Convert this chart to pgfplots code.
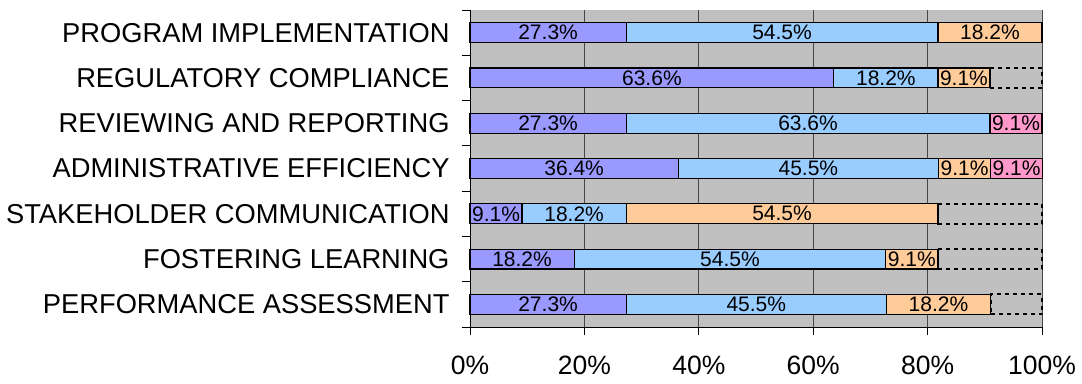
\documentclass[border=0pt]{standalone}
\usepackage{pgfplots}
\pgfplotsset{compat=1.18}
\usepackage{fontspec}
\setmainfont{Liberation Sans}
\definecolor{cA}{HTML}{9999FF}
\definecolor{cB}{HTML}{99CCFF}
\definecolor{cC}{HTML}{FFCC99}
\definecolor{cD}{HTML}{FF99CC}
\definecolor{bg}{HTML}{C0C0C0}
\begin{document}
\begin{tikzpicture}[x=1bp,y=1bp]
\path[use as bounding box] (0,0) rectangle (1082,383);
\pgfplotsset{common/.style={scale only axis, width=572bp, height=317bp,
  at={(470bp,56bp)}, anchor=south west,
  xmin=0, xmax=100, ymin=-0.5, ymax=6.5, clip=false}}
\begin{axis}[common,
  xbar stacked, bar width=0.44,
  axis background/.style={fill=bg},
  axis x line=bottom, axis y line=left,
  axis line style={-, black, line width=1bp},
  xtick={0,20,...,100},
  xmajorgrids, grid style={draw=black!72, line width=0.9bp},
  xticklabel={\pgfmathprintnumber{\tick}\%},
  /pgf/number format/assume math mode=true,
  xticklabel style={font=\fontsize{26.5bp}{26.5bp}\selectfont, yshift=-17bp},
  ytick={-0.5,0.5,...,6.5},
  yticklabels={{},PERFORMANCE ASSESSMENT,FOSTERING LEARNING,STAKEHOLDER COMMUNICATION,ADMINISTRATIVE EFFICIENCY,REVIEWING AND REPORTING,REGULATORY COMPLIANCE,PROGRAM IMPLEMENTATION},
  yticklabel style={font=\fontsize{27.3bp}{27.3bp}\selectfont, yshift=-22.65bp, xshift=-9bp},
  tick align=outside, major tick length=8bp,
  tick style={black, line width=1bp},
]
\addplot[fill=cA, draw=black, line width=1.2bp] coordinates {(27.3,0) (18.2,1) (9.1,2) (36.4,3) (27.3,4) (63.6,5) (27.3,6)};
\addplot[fill=cB, draw=black, line width=1.2bp] coordinates {(45.5,0) (54.5,1) (18.2,2) (45.5,3) (63.6,4) (18.2,5) (54.5,6)};
\addplot[fill=cC, draw=black, line width=1.2bp] coordinates {(18.2,0) (9.1,1) (54.5,2) (9.1,3) (0,4) (9.1,5) (18.2,6)};
\addplot[fill=cD, draw=black, line width=1.2bp] coordinates {(0,0) (0,1) (0,2) (9.1,3) (9.1,4) (0,5) (0,6)};
\addplot[fill=none, draw=black, dash pattern=on 4bp off 4bp, line width=2bp] coordinates {(9.0,0) (18.2,1) (18.2,2) (0,3) (0,4) (9.1,5) (0,6)};
\end{axis}
\begin{axis}[common, hide axis]
\addplot[draw=none, mark=none, nodes near coords, point meta=explicit symbolic,
  every node near coord/.append style={anchor=center, inner sep=0pt, font=\fontsize{21bp}{21bp}\selectfont}]
coordinates {
(13.65,0) [27.3\%] (50.05,0) [45.5\%] (81.9,0) [18.2\%]
(9.1,1) [18.2\%] (45.45,1) [54.5\%] (77.25,1) [9.1\%]
(4.55,2) [9.1\%] (18.2,2) [18.2\%] (54.55,2) [54.5\%]
(18.2,3) [36.4\%] (59.15,3) [45.5\%] (86.45,3) [9.1\%] (95.55,3) [9.1\%]
(13.65,4) [27.3\%] (59.1,4) [63.6\%] (95.45,4) [9.1\%]
(31.8,5) [63.6\%] (72.7,5) [18.2\%] (86.35,5) [9.1\%]
(13.65,6) [27.3\%] (54.55,6) [54.5\%] (90.9,6) [18.2\%]
};
\end{axis}
\end{tikzpicture}
\end{document}
